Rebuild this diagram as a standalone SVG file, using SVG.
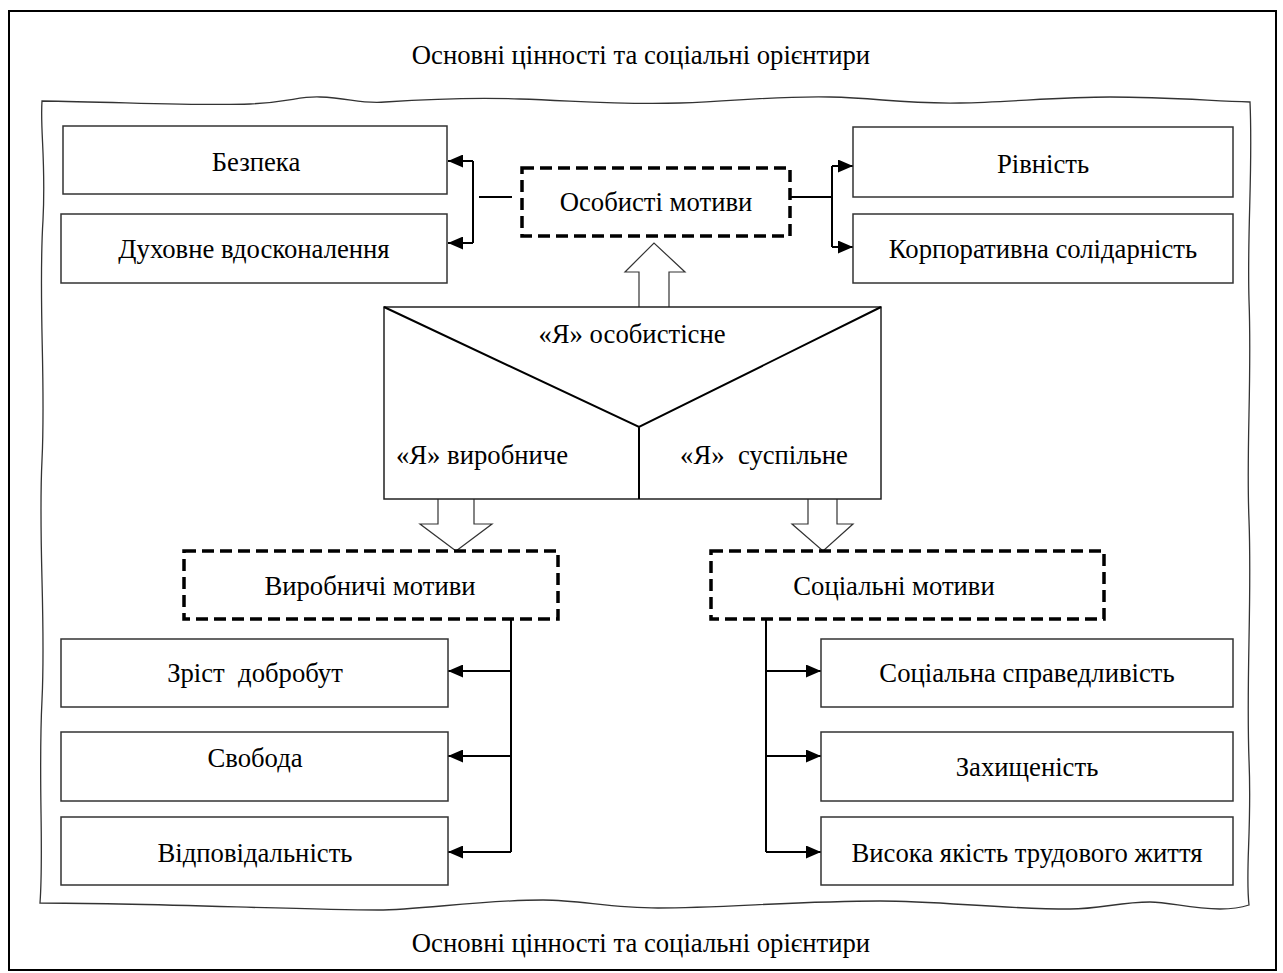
<svg xmlns="http://www.w3.org/2000/svg" width="1283" height="973" viewBox="0 0 1283 973">
<defs>
<marker id="ah" markerWidth="15" markerHeight="13" refX="15" refY="6.5" orient="auto" markerUnits="userSpaceOnUse">
<path d="M0,0 L15,6.5 L0,13 Z" fill="#000"/>
</marker>
<style>
text{font-family:'Liberation Serif','Times New Roman',serif;font-size:26.7px;fill:#000;text-anchor:middle}
.box{fill:#fff;stroke:#333;stroke-width:1.5}
.dash{fill:#fff;stroke:#000;stroke-width:3.5;stroke-dasharray:12,6}
.con{fill:none;stroke:#000;stroke-width:2}
.hol{fill:#fff;stroke:#333;stroke-width:1.2}
</style>
</defs>
<rect x="0" y="0" width="1283" height="973" fill="#fff"/>
<g id="frame">
<rect x="9" y="11" width="1267" height="959" fill="none" stroke="#000" stroke-width="2"/>
<text x="641" y="64">Основні цінності та соціальні орієнтири</text>
<text x="641" y="952">Основні цінності та соціальні орієнтири</text>
</g>
<g id="wavy-border">
<path d="M42,101 C120,102 200,106 250,104 C290,102 300,96 320,97 C350,98 360,104 385,102 C430,99 470,97 520,99 C580,101 620,105 680,103 C740,101 770,96 830,97 C880,98 900,104 960,103 C1010,102 1060,97 1110,97 C1160,97 1200,100 1250,102 C1253,170 1247,230 1249,300 C1252,380 1246,450 1249,520 C1252,600 1246,680 1249,760 C1252,830 1245,870 1249,905 C1240,908 1230,909 1220,909 C1190,909 1170,902 1150,902 C1120,902 1100,909 1070,909 C1000,909 940,901 880,901 C800,901 720,908 658,908 C610,908 580,900 543,900 C480,900 420,910 378,910 C300,910 150,903 40,903 C44,850 38,780 42,700 C46,620 38,540 42,460 C46,380 38,300 43,220 C46,160 40,130 42,101 Z" fill="none" stroke="#333" stroke-width="1.3"/>
</g>
<g id="connectors">
<line class="con" x1="479" y1="197" x2="512" y2="197"/>
<path class="con" d="M473,161 L473,243"/>
<line class="con" x1="473" y1="161" x2="448" y2="161" marker-end="url(#ah)"/>
<line class="con" x1="473" y1="243" x2="448" y2="243" marker-end="url(#ah)"/>
<line class="con" x1="790" y1="197" x2="832" y2="197"/>
<path class="con" d="M832,166 L832,247"/>
<line class="con" x1="832" y1="166" x2="853" y2="166" marker-end="url(#ah)"/>
<line class="con" x1="832" y1="247" x2="853" y2="247" marker-end="url(#ah)"/>
<path class="con" d="M511,619 L511,852"/>
<line class="con" x1="511" y1="671" x2="448" y2="671" marker-end="url(#ah)"/>
<line class="con" x1="511" y1="756" x2="448" y2="756" marker-end="url(#ah)"/>
<line class="con" x1="511" y1="852" x2="448" y2="852" marker-end="url(#ah)"/>
<path class="con" d="M766,619 L766,852"/>
<line class="con" x1="766" y1="671" x2="821" y2="671" marker-end="url(#ah)"/>
<line class="con" x1="766" y1="756" x2="821" y2="756" marker-end="url(#ah)"/>
<line class="con" x1="766" y1="852" x2="821" y2="852" marker-end="url(#ah)"/>
<path class="hol" d="M639,307 L639,272 L625,272 L654,243 L685,272 L669,272 L669,307"/>
<path class="hol" d="M438,499 L438,524 L420,524 L456,551 L492,524 L474,524 L474,499"/>
<path class="hol" d="M808,499 L808,524 L792,524 L823,551 L853,524 L837,524 L837,499"/>
</g>
<g id="n-bezpeka"><rect class="box" x="63" y="126" width="384" height="68"/><text x="256" y="171">Безпека</text></g>
<g id="n-dukhovne"><rect class="box" x="61" y="214" width="386" height="69"/><text x="254" y="258">Духовне вдосконалення</text></g>
<g id="n-rivnist"><rect class="box" x="853" y="127" width="380" height="70"/><text x="1043" y="173">Рівність</text></g>
<g id="n-korp"><rect class="box" x="853" y="214" width="380" height="69"/><text x="1043" y="258">Корпоративна солідарність</text></g>
<g id="n-osobysti"><rect class="dash" x="522" y="168" width="268" height="68"/><text x="656" y="211">Особисті мотиви</text></g>
<g id="n-ya">
<rect x="384" y="307" width="497" height="192" fill="#fff" stroke="#222" stroke-width="1.5"/>
<path d="M384,307 L639,427 L881,307 M639,427 L639,499" fill="none" stroke="#000" stroke-width="2"/>
<text x="632" y="343">«Я» особистісне</text>
<text x="482" y="464">«Я» виробниче</text>
<text x="764" y="464" xml:space="preserve">«Я»  суспільне</text>
</g>
<g id="n-vyrob"><rect class="dash" x="184" y="551" width="374" height="68"/><text x="370" y="595">Виробничі мотиви</text></g>
<g id="n-social"><rect class="dash" x="711" y="551" width="393" height="68"/><text x="894" y="595">Соціальні мотиви</text></g>
<g id="n-zrist"><rect class="box" x="61" y="639" width="387" height="68"/><text x="255" y="682" xml:space="preserve">Зріст  добробут</text></g>
<g id="n-svoboda"><rect class="box" x="61" y="732" width="387" height="69"/><text x="255" y="767">Свобода</text></g>
<g id="n-vidp"><rect class="box" x="61" y="817" width="387" height="68"/><text x="255" y="862">Відповідальність</text></g>
<g id="n-spravedl"><rect class="box" x="821" y="639" width="412" height="68"/><text x="1027" y="682">Соціальна справедливість</text></g>
<g id="n-zakhyshch"><rect class="box" x="821" y="732" width="412" height="69"/><text x="1027" y="776">Захищеність</text></g>
<g id="n-vysoka"><rect class="box" x="821" y="817" width="412" height="68"/><text x="1027" y="862">Висока якість трудового життя</text></g>
</svg>
